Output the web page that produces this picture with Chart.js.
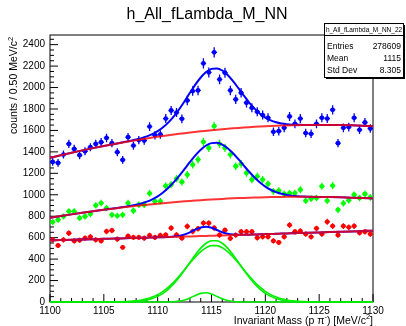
<!DOCTYPE html>
<html><head><meta charset="utf-8">
<script src="https://cdn.jsdelivr.net/npm/chart.js@4/dist/chart.umd.min.js"></script>
<style>html,body{margin:0;padding:0;background:#fff;}canvas{display:block;}</style>
</head><body>
<canvas id="c" width="406" height="326"></canvas>
<script>
const FONT = '"Liberation Sans", Arial, Helvetica, sans-serif';
const titleText = 'h_All_fLambda_M_NN';
const statsName = 'h_All_fLambda_M_NN_22';
const statsLabels = ['Entries', 'Mean', 'Std Dev'];
const statsValues = ['278609', '1115', '8.305'];
const xTicks = [1100, 1105, 1110, 1115, 1120, 1125, 1130];
const yTicks = [0, 200, 400, 600, 800, 1000, 1200, 1400, 1600, 1800, 2000, 2200, 2400];
const binHalfWidth = 0.25;

const binCenters = [1100.25,1100.75,1101.25,1101.75,1102.25,1102.75,1103.25,1103.75,1104.25,1104.75,
1105.25,1105.75,1106.25,1106.75,1107.25,1107.75,1108.25,1108.75,1109.25,1109.75,
1110.25,1110.75,1111.25,1111.75,1112.25,1112.75,1113.25,1113.75,1114.25,1114.75,
1115.25,1115.75,1116.25,1116.75,1117.25,1117.75,1118.25,1118.75,1119.25,1119.75,
1120.25,1120.75,1121.25,1121.75,1122.25,1122.75,1123.25,1123.75,1124.25,1124.75,
1125.25,1125.75,1126.25,1126.75,1127.25,1127.75,1128.25,1128.75,1129.25,1129.75];

const blueCounts = [1306,1297,1375,1474,1428,1369,1406,1443,1474,1490,
1530,1481,1397,1325,1537,1459,1510,1505,1636,1556,
1562,1711,1786,1767,1708,1879,1967,1973,2225,2141,
2328,2076,2138,1973,1889,1951,1858,1811,1774,1743,
1718,1587,1593,1624,1730,1662,1711,1575,1568,1662,
1718,1711,1792,1481,1624,1631,1718,1606,1674,1618];

const greenCounts = [745,767,798,845,845,783,798,820,901,923,
876,813,804,813,923,851,907,907,1013,939,
939,1082,1094,1150,1119,1187,1281,1328,1493,1437,
1640,1474,1437,1375,1266,1288,1203,1141,1172,1141,
1101,1032,1038,1007,1016,1016,1047,944,963,970,
1079,944,1085,860,920,948,1000,970,1007,976];

const redCounts = [580,527,580,642,570,576,595,608,580,570,
658,667,586,509,614,602,602,595,621,602,
621,626,689,626,595,705,658,683,736,736,
690,625,670,593,624,655,655,655,599,608,
608,570,555,608,717,655,661,633,608,686,
633,748,708,624,708,696,708,645,655,633];

const fitX = [1100,1101,1102,1103,1104,1105,1106,1107,
1107.5,1108,1108.5,1109,1109.5,1110,1110.5,1111,1111.5,1112,
1112.5,1113,1113.5,1114,1114.5,1115,1115.5,1116,1116.5,1117,
1117.5,1118,1118.5,1119,1119.5,1120,1120.5,1121,1121.5,1122,
1122.5,1123,1123.5,
1124,1125,1126,1127,1128,1129,1130];

const blueFit = [1345,1368.9,1391.9,1413.9,1434.9,1455.0,1474.0,1493.7,
1503.9,1515.3,1528.5,1544.8,1565.7,1593.1,1628.8,1674.7,1731.1,1797.8,
1872.6,1950.8,2026.8,2093.7,2144.4,2173.8,2178.6,2158.8,2117.6,2060.4,
1993.9,1925.3,1860.1,1803.0,1756.1,1719.8,1693.7,1675.9,1664.5,1657.8,
1654.1,1652.4,1651.8,
1650.8,1651.4,1651.0,1649.6,1647.2,1643.9,1639.6];

const blueBkg = [1345,1368.9,1391.9,1413.9,1434.9,1455.0,1474.0,1492.1,
1500.8,1509.3,1517.5,1525.4,1533.1,1540.6,1547.8,1554.8,1561.5,1568.0,
1574.3,1580.3,1586.0,1591.6,1596.8,1601.9,1606.7,1611.2,1615.5,1619.6,
1623.4,1627.0,1630.3,1633.4,1636.2,1638.8,1641.2,1643.3,1645.1,1646.8,
1648.1,1649.3,1650.2,
1650.8,1651.4,1651.0,1649.6,1647.2,1643.9,1639.6];

const greenFit = [785,801.4,817.2,832.2,846.4,860,873.7,888.4,
897.0,907.2,920.0,936.4,957.9,985.7,1021.2,1065.0,1117.2,1176.6,
1240.6,1305.7,1367.2,1420.0,1459.4,1481.6,1484.5,1468.1,1434.6,1387.6,
1331.9,1272.6,1214.4,1160.8,1114.5,1076.5,1046.8,1024.8,1009.2,998.6,
991.6,987.2,984.4,
982.6,980,978.4,976.2,973.2,969.4,965];

const greenBkg = [785,801.4,817.2,832.2,846.4,860,872.8,885.0,
890.8,896.4,901.8,907.0,912.1,917,921.7,926.2,930.6,934.8,
938.8,942.6,946.2,949.6,952.9,956,958.9,961.6,964.2,966.6,
968.8,970.8,972.6,974.2,975.7,977,978.1,979.0,979.8,980.4,
980.8,981.0,981.0,
980.8,980,978.4,976.2,973.2,969.4,965];

const redFit = [575,577.7,580.4,583.2,586.0,588.8,591.6,594.4,
595.8,597.2,598.7,600.1,601.6,603,604.5,606.6,610.1,616.8,
629.7,650.1,674.8,695.3,701.9,691.9,671.5,650.7,636.2,629.1,
626.9,627.2,628.3,629.9,631.4,633,634.6,636.1,637.7,639.2,
640.8,642.4,644.0,
645.6,648.8,652.0,655.2,658.4,661.7,665];

const redBkg = [575,577.7,580.4,583.2,586.0,588.8,591.6,594.4,
595.8,597.2,598.7,600.1,601.6,603,604.5,605.9,607.4,608.8,
610.3,611.8,613.3,614.8,616.3,617.8,619.3,620.8,622.3,623.8,
625.3,626.8,628.3,629.9,631.4,633,634.6,636.1,637.7,639.2,
640.8,642.4,644.0,
645.6,648.8,652.0,655.2,658.4,661.7,665];

const signalBlue = [0,0,0,0,0,0,0,1.6,
3.1,6.0,11.0,19.4,32.6,52.5,81.0,119.9,169.6,229.8,
298.3,370.5,440.8,502.1,547.6,571.9,571.9,547.6,502.1,440.8,
370.5,298.3,229.8,169.6,119.9,81.0,52.5,32.6,19.4,11.0,
6.0,3.1,1.6,
0,0,0,0,0,0,0];

const signalGreen = [0,0,0,0,0,0,0.9,3.4,
6.2,10.8,18.2,29.4,45.8,68.7,99.5,138.8,186.6,241.8,
301.8,363.1,421.0,470.4,506.5,525.6,525.6,506.5,470.4,421.0,
363.1,301.8,241.8,186.6,138.8,99.5,68.7,45.8,29.4,18.2,
10.8,6.2,3.4,
1.8,0,0,0,0,0,0];

const signalRed = [0,0,0,0,0,0,0,0,
0,0,0,0,0,0,0.1,0.7,2.7,8.0,
19.4,38.3,61.5,80.5,85.6,74.1,52.2,29.9,13.9,5.3,
1.6,0.4,0,0,0,0,0,0,0,0,
0,0,0,
0,0,0,0,0,0,0];

function pts(xs, ys) { return xs.map((x, i) => ({ x: x, y: ys[i] })); }

function markerSet(ys, col) {
  return { data: pts(binCenters, ys), showLine: false, pointRadius: 2.4, pointHoverRadius: 2.4,
    pointBackgroundColor: col, pointBorderWidth: 0, borderColor: col, order: 5, clip: false };
}
function curveSet(ys, col, w, order) {
  return { data: pts(fitX, ys), borderColor: col, borderWidth: w, pointRadius: 0, pointHoverRadius: 0,
    cubicInterpolationMode: 'monotone', fill: false, order: order, clip: false };
}

function richWidth(ctx, segs, size) {
  let w = 0;
  segs.forEach(s => { ctx.font = (s.sup ? size * 0.7 : size) + 'px ' + FONT; w += ctx.measureText(s.t).width; });
  return w;
}
function drawRich(ctx, segs, x, y, size) {
  let cx = x;
  segs.forEach(s => {
    ctx.font = (s.sup ? size * 0.7 : size) + 'px ' + FONT;
    ctx.fillText(s.t, cx, s.sup ? y - size * 0.42 : y);
    cx += ctx.measureText(s.t).width;
  });
}
const xTitleSegs = [{t: 'Invariant Mass (p \u03c0'}, {t: '-', sup: true}, {t: ') [MeV/c'}, {t: '2', sup: true}, {t: ']'}];
const yTitleSegs = [{t: 'counts / 0.50 MeV/c'}, {t: '2', sup: true}];

const rootPlugin = {
  id: 'rootStyle',
  beforeDatasetsDraw(chart) {
    const ctx = chart.ctx, a = chart.chartArea, xs = chart.scales.x, ys = chart.scales.y;
    ctx.save();
    ctx.strokeStyle = '#000';
    ctx.lineWidth = 1;
    ctx.strokeRect(a.left, a.top, a.right - a.left, a.bottom - a.top);
    ctx.beginPath();
    for (let v = 0; v <= 2490; v += 50) {
      const y = ys.getPixelForValue(v);
      const L = (v % 200 === 0) ? 8 : 4;
      ctx.moveTo(a.left, y); ctx.lineTo(a.left + L, y);
    }
    for (let v = 1100; v <= 1130; v += 1) {
      const x = xs.getPixelForValue(v);
      const L = (v % 5 === 0) ? 8 : 4;
      ctx.moveTo(x, a.bottom); ctx.lineTo(x, a.bottom - L);
    }
    ctx.stroke();
    [[blueCounts, '#0000ff'], [greenCounts, '#00ff00'], [redCounts, '#ff0000']].forEach(([arr, col]) => {
      ctx.strokeStyle = col; ctx.lineWidth = 1.3; ctx.beginPath();
      arr.forEach((c, i) => {
        const xc = binCenters[i];
        const x = xs.getPixelForValue(xc), y = ys.getPixelForValue(c), e = Math.sqrt(c);
        ctx.moveTo(x, ys.getPixelForValue(c + e)); ctx.lineTo(x, ys.getPixelForValue(c - e));
        ctx.moveTo(xs.getPixelForValue(xc - binHalfWidth), y); ctx.lineTo(xs.getPixelForValue(xc + binHalfWidth), y);
      });
      ctx.stroke();
    });
    ctx.restore();
  },
  afterDraw(chart) {
    const ctx = chart.ctx;
    ctx.save();
    ctx.fillStyle = '#000';
    ctx.textBaseline = 'alphabetic';
    ctx.textAlign = 'center';
    ctx.font = '16px ' + FONT;
    ctx.fillText(titleText, 207, 19);
    ctx.textAlign = 'left';
    const wx = richWidth(ctx, xTitleSegs, 10.5);
    drawRich(ctx, xTitleSegs, 373 - wx, 323.5, 10.5);
    ctx.save();
    ctx.translate(17, 37);
    ctx.rotate(-Math.PI / 2);
    const wy = richWidth(ctx, yTitleSegs, 10.5);
    drawRich(ctx, yTitleSegs, -wy, 0, 10.5);
    ctx.restore();
    // stats box
    const bx = 324, by = 23, bw = 80, bh = 55;
    ctx.fillStyle = '#fff';
    ctx.fillRect(bx, by, bw, bh);
    ctx.strokeStyle = '#000';
    ctx.lineWidth = 1;
    ctx.strokeRect(bx + 0.5, by + 0.5, bw - 1, bh - 1);
    ctx.fillStyle = '#000';
    ctx.fillRect(bx + 2, by + bh, bw - 1, 1);
    ctx.fillRect(bx + bw, by + 2, 1, bh - 1);
    ctx.beginPath();
    ctx.moveTo(bx, by + 12.5); ctx.lineTo(bx + bw, by + 12.5);
    ctx.stroke();
    ctx.textAlign = 'center';
    ctx.font = '6.5px ' + FONT;
    ctx.fillText(statsName, bx + bw / 2, by + 9);
    ctx.font = '8.5px ' + FONT;
    const baselines = [48.5, 61, 73];
    statsLabels.forEach((lab, i) => {
      ctx.textAlign = 'left'; ctx.fillText(lab, bx + 3, baselines[i]);
      ctx.textAlign = 'right'; ctx.fillText(statsValues[i], bx + bw - 3, baselines[i]);
    });
    ctx.restore();
  }
};

new Chart(document.getElementById('c'), {
  type: 'line',
  data: {
    datasets: [
      markerSet(blueCounts, '#0000ff'),
      markerSet(greenCounts, '#00ff00'),
      markerSet(redCounts, '#ff0000'),
      curveSet(signalBlue, '#00ee00', 1.6, 3),
      curveSet(signalGreen, '#00ee00', 1.6, 3),
      curveSet(signalRed, '#00ee00', 1.6, 3),
      curveSet(blueFit, '#0000ff', 2, 2),
      curveSet(greenFit, '#0000ff', 2, 2),
      curveSet(redFit, '#0000ff', 2, 2),
      curveSet(blueBkg, 'rgba(255,0,0,0.8)', 2, 1),
      curveSet(greenBkg, 'rgba(255,0,0,0.8)', 2, 1),
      curveSet(redBkg, 'rgba(255,0,0,0.8)', 2, 1)
    ]
  },
  options: {
    responsive: false,
    animation: false,
    devicePixelRatio: 1,
    events: [],
    layout: { padding: { left: 0, top: 35, right: 33, bottom: 0 } },
    plugins: { legend: { display: false }, tooltip: { enabled: false }, title: { display: false } },
    scales: {
      x: {
        type: 'linear', min: 1100, max: 1130,
        afterBuildTicks: s => { s.ticks = xTicks.map(v => ({ value: v })); },
        afterFit: s => { s.height = 24; },
        grid: { display: false, drawTicks: false },
        border: { display: false },
        ticks: { color: '#000', font: { family: FONT, size: 10 }, padding: 3, maxRotation: 0, autoSkip: false,
          callback: v => String(v) }
      },
      y: {
        type: 'linear', min: 0, max: 2490,
        afterBuildTicks: s => { s.ticks = yTicks.map(v => ({ value: v })); },
        afterFit: s => { s.width = 50; },
        grid: { display: false, drawTicks: false },
        border: { display: false },
        ticks: { color: '#000', font: { family: FONT, size: 10 }, padding: 5, autoSkip: false,
          callback: v => String(v) }
      }
    }
  },
  plugins: [rootPlugin]
});
</script>
</body></html>
